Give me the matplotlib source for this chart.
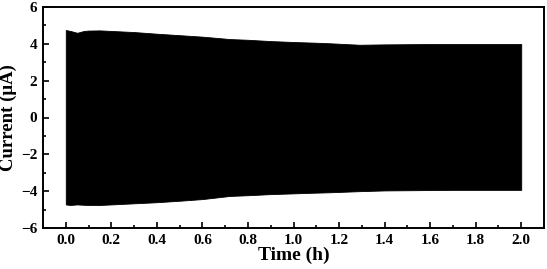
import matplotlib
matplotlib.use("Agg")
import matplotlib.pyplot as plt
from matplotlib.ticker import MultipleLocator

# envelope of the dense current oscillation
time_h = [0.0, 0.02, 0.05, 0.08, 0.10, 0.15, 0.20, 0.30, 0.40, 0.50, 0.60,
          0.72, 0.80, 0.90, 1.00, 1.10, 1.16, 1.29, 1.40, 1.50, 1.60, 1.70,
          1.80, 1.90, 2.00]
upper_uA = [4.75, 4.70, 4.60, 4.70, 4.72, 4.73, 4.70, 4.64, 4.55, 4.47, 4.39,
            4.26, 4.22, 4.15, 4.10, 4.06, 4.03, 3.95, 3.97, 3.98, 3.99, 3.99,
            3.99, 3.99, 3.99]
lower_uA = [-4.72, -4.75, -4.72, -4.74, -4.75, -4.75, -4.72, -4.66, -4.60,
            -4.52, -4.43, -4.26, -4.22, -4.16, -4.12, -4.08, -4.06, -4.0,
            -3.96, -3.95, -3.94, -3.93, -3.93, -3.93, -3.93]

plt.rcParams["font.family"] = "Liberation Serif"
plt.rcParams["font.weight"] = "bold"

fig = plt.figure(figsize=(5.47, 2.69), dpi=100)
ax = fig.add_axes([43 / 547, 1 - 228 / 269, (544 - 43) / 547, (228 - 7) / 269])

ax.fill_between(time_h, lower_uA, upper_uA, color="black", linewidth=0.6,
                edgecolor="black")

ax.set_xlim(-0.1, 2.1)
ax.set_ylim(-6, 6)
ax.xaxis.set_major_locator(MultipleLocator(0.2))
ax.xaxis.set_minor_locator(MultipleLocator(0.1))
ax.yaxis.set_major_locator(MultipleLocator(2))
ax.yaxis.set_minor_locator(MultipleLocator(1))
ax.xaxis.set_major_formatter(plt.FormatStrFormatter("%.1f"))

ax.tick_params(which="both", direction="in", width=1.2, labelsize=11)
ax.tick_params(which="major", length=4, pad=4)
ax.tick_params(which="minor", length=2)
for spine in ax.spines.values():
    spine.set_linewidth(1.4)

ax.set_xlabel("Time (h)", fontsize=14, fontweight="bold", labelpad=0)
ax.set_ylabel("Current (\u03bcA)", fontsize=13.5, fontweight="bold")
ax.yaxis.set_label_coords(-0.052, 0.5)

fig.savefig("out.png", dpi=100)
